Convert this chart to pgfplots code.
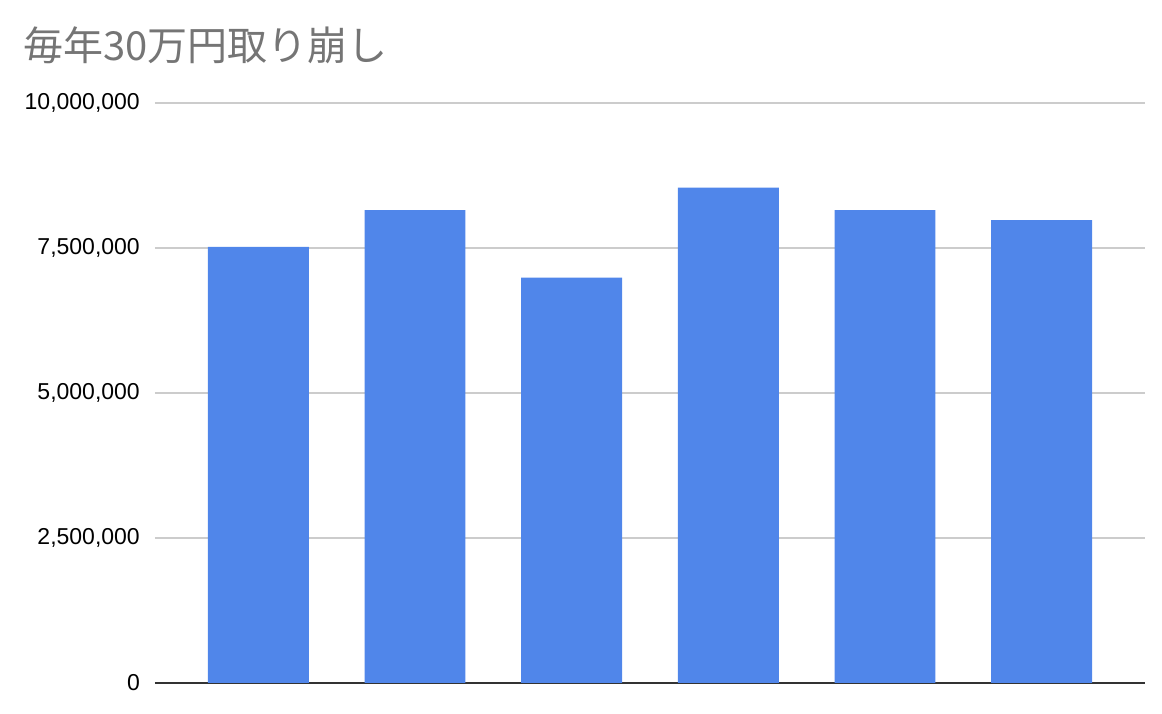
\documentclass[border=0pt]{standalone}
\usepackage{fontspec}
\setmainfont{Liberation Sans}
\newfontfamily\cjk{Noto Sans CJK JP}
\usepackage{pgfplots}
\pgfplotsset{compat=1.18}
\definecolor{barblue}{RGB}{80,134,234}
\definecolor{titlegray}{RGB}{117,117,117}
\definecolor{gridgray}{RGB}{204,204,204}
\definecolor{axisdark}{RGB}{51,51,51}
\begin{document}
\begin{tikzpicture}[x=1pt,y=1pt]
  % page = 1162 x 714 px, 1px = 1pt; axis box at (155..1145, 103..683)
  \useasboundingbox (-155,-31) rectangle (1007,683);
  \begin{axis}[
      at={(0,0)}, anchor=south west,
      scale only axis,
      width=990pt, height=580pt,
      ymin=0, ymax=10000000,
      xmin=-0.66, xmax=5.66,
      ytick={0,2500000,5000000,7500000,10000000},
      yticklabels={0,{2,500,000},{5,000,000},{7,500,000},{10,000,000}},
      xtick=\empty,
      ymajorgrids,
      grid style={gridgray, line width=1.3pt},
      axis x line*=bottom,
      axis y line*=left,
      y axis line style={draw=none},
      x axis line style={axisdark, line width=2pt, -},
      major tick length=0pt,
      yticklabel style={font=\fontsize{23}{26}\selectfont, anchor=east, inner sep=0pt, xshift=-15pt},
      scaled y ticks=false,
      clip=false,
    ]
    \addplot[ybar, bar width=0.644, fill=barblue, draw=none] coordinates {
      (0, 7520000)
      (1, 8155000)
      (2, 6990000)
      (3, 8540000)
      (4, 8155000)
      (5, 7980000)
    };
  \end{axis}
  \node[anchor=base west, inner sep=0pt, text=titlegray, font=\cjk\fontsize{40}{46}\selectfont]
    at (-132,622) {毎年30万円取り崩し};
\end{tikzpicture}
\end{document}
